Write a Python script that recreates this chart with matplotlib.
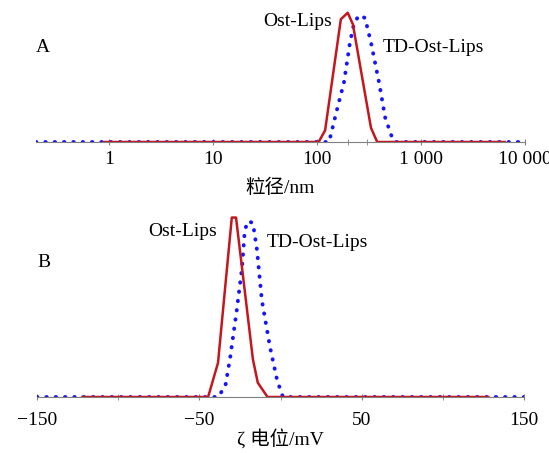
import matplotlib
matplotlib.use("Agg")
import matplotlib.pyplot as plt
from matplotlib.ticker import FixedLocator, FixedFormatter, NullFormatter

plt.rcParams['font.family'] = ['Liberation Serif', 'Noto Sans CJK SC']
plt.rcParams['font.size'] = 14

# panel A: size distribution (nm), intensity %
size_red = [0.9, 104, 120, 170, 198, 222, 331, 380, 6400]
int_red = [0, 0, 9, 95, 100, 91, 11, 0, 0]
size_blue = [0.2, 131, 156, 182, 208, 228, 254, 290, 331, 396, 453, 530, 566, 10000]
int_blue = [0, 0, 25, 46, 77, 92, 98, 96, 77, 46, 19, 3, 0, 0]

# panel B: zeta potential (mV)
zeta_red = [-122, -44.6, -38.5, -30, -27.4, -23.7, -17, -14, -8, 128]
zint_red = [0, 0, 19, 100, 100, 72, 21, 8, 0, 0]
zeta_blue = [-150, -38.5, -34, -31, -27, -23.7, -22, -20, -17, -14.5, -11.5, -6.5, -2, 1.5, 150]
zint_blue = [0, 0, 6, 22, 48, 72, 93, 98, 97, 82, 54, 28, 9, 0, 0]

size_ticks = [1, 10, 100, 1000, 10000]
size_labels = ['1', '10', '100', '1 000', '10 000']
zeta_ticks = [-150, -50, 50, 150]

W, H = 549, 453
fig = plt.figure(figsize=(W / 100, H / 100), dpi=100)

red = '#c4161c'
blue = '#1414ff'
dot = (0, (0.1, 2.3))


def style(ax):
    for s in ['top', 'right', 'left']:
        ax.spines[s].set_visible(False)
    ax.spines['bottom'].set_color('#808080')
    ax.set_yticks([])
    ax.tick_params(axis='x', which='both', direction='inout', length=5,
                   color='#808080', pad=4)


axA = fig.add_axes([36 / W, 1 - 142 / H, 489 / W, 137 / H])
axA.plot(size_blue, int_blue, color=blue, lw=2.8, linestyle=dot, dash_capstyle='round')
axA.plot(size_red, int_red, color=red, lw=1.8)
axA.set_xscale('log')
axA.set_xlim(0.2, 10000)
axA.set_ylim(0, 106)
axA.xaxis.set_major_locator(FixedLocator(size_ticks))
axA.xaxis.set_major_formatter(FixedFormatter(size_labels))
axA.xaxis.set_minor_locator(FixedLocator([200, 300]))
axA.xaxis.set_minor_formatter(NullFormatter())
style(axA)
axA.set_xlabel('粒径/nm', labelpad=8)
axA.text(0.0, 0.69, 'A', transform=axA.transAxes, va='center')
axA.text(66, 93, 'Ost-Lips', ha='center', va='center')
axA.text(1320, 73, 'TD-Ost-Lips', ha='center', va='center')

axB = fig.add_axes([37 / W, 1 - 397 / H, 487 / W, 192 / H])
axB.plot(zeta_blue, zint_blue, color=blue, lw=2.8, linestyle=dot, dash_capstyle='round')
axB.plot(zeta_red, zint_red, color=red, lw=1.8)
axB.set_xlim(-150, 150)
axB.set_ylim(0, 107)
axB.set_xticks(zeta_ticks)
axB.set_xticklabels(['\u2212150', '\u221250', '50', '150'])
axB.xaxis.set_minor_locator(FixedLocator([-100, 0, 100]))
style(axB)
axB.tick_params(axis='x', which='major', pad=8)
axB.set_xlabel('ζ 电位/mV', labelpad=1)
axB.text(-150, 75, 'B', va='center')
axB.text(-60, 92, 'Ost-Lips', ha='center', va='center')
axB.text(23, 86, 'TD-Ost-Lips', ha='center', va='center')

fig.savefig('out.png', dpi=100)
